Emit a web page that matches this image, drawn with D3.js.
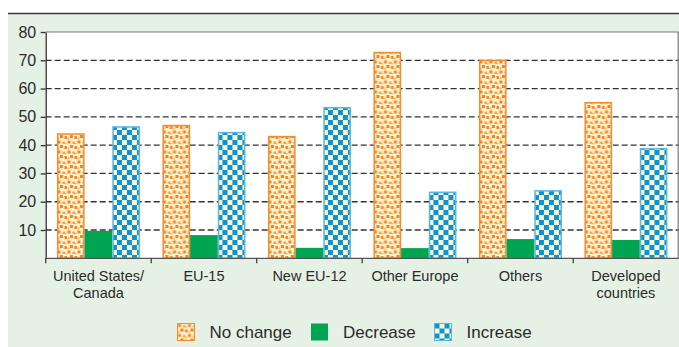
<!DOCTYPE html>
<html>
<head>
<meta charset="utf-8">
<script src="https://cdn.jsdelivr.net/npm/d3@7"></script>
<style>
  html, body { margin: 0; padding: 0; background: #ffffff; }
  svg { display: block; font-family: "Liberation Sans", Arial, Helvetica, sans-serif; }
</style>
</head>
<body>
<svg id="chart" width="679" height="347"></svg>
<script>
// Regions on the x axis (multi-line labels split on "\n")
const categories = [
  "United States/\nCanada",
  "EU-15",
  "New EU-12",
  "Other Europe",
  "Others",
  "Developed\ncountries"
];
// Share of respondents (%) per answer
const noChange = [44.2, 47.2, 43.3, 73.0, 70.2, 55.3];
const decrease = [9.7, 8.2, 3.7, 3.6, 6.8, 6.5];
const increase = [46.7, 44.7, 53.5, 23.6, 24.1, 39.0];
const seriesNames = ["No change", "Decrease", "Increase"];
const yTicks = [10, 20, 30, 40, 50, 60, 70, 80];

const W = 679, H = 347;
const plot = { left: 45.7, right: 678.7, top: 32, bottom: 258.3 };
const textColor = "#2b2b2b";

const svg = d3.select("#chart");
const defs = svg.append("defs");

// Speckled orange fill
const pNo = defs.append("pattern").attr("id", "pat-nochange")
  .attr("patternUnits", "userSpaceOnUse").attr("width", 10).attr("height", 10);
pNo.append("rect").attr("width", 10).attr("height", 10).attr("fill", "#fff4cf");
[[0.5,0.5,3,3,"#f58220"],[5.5,1.5,2.5,2.5,"#f7a04a"],[3,5,3,3,"#f58220"],
 [7.5,6,2.5,3,"#f58220"],[0.5,7.5,2,2,"#f9b36a"],[8,3,1.5,1.5,"#f9b36a"]]
  .forEach(([x, y, w, h, c]) => pNo.append("rect").attr("x", x).attr("y", y)
    .attr("width", w).attr("height", h).attr("fill", c));

// Blue checkerboard fill
const cell = 5;
const pInc = defs.append("pattern").attr("id", "pat-increase")
  .attr("patternUnits", "userSpaceOnUse").attr("width", cell * 2).attr("height", cell * 2);
pInc.append("rect").attr("width", cell * 2).attr("height", cell * 2).attr("fill", "#fdf5cc");
pInc.append("rect").attr("x", 0).attr("y", 0).attr("width", cell).attr("height", cell).attr("fill", "#0a93da");
pInc.append("rect").attr("x", cell).attr("y", cell).attr("width", cell).attr("height", cell).attr("fill", "#0a93da");

const styles = [
  { fill: "url(#pat-nochange)", stroke: "#f68b2c", sw: 1.5 },
  { fill: "#00a551", stroke: "none", sw: 0 },
  { fill: "url(#pat-increase)", stroke: "#56b8e6", sw: 1.5 }
];

// Panel background and top rule
svg.append("rect").attr("x", 8).attr("y", 13).attr("width", W - 8).attr("height", H - 13)
  .attr("fill", "#e6f1e5");
svg.append("line").attr("x1", 8).attr("x2", W).attr("y1", 13.5).attr("y2", 13.5)
  .attr("stroke", "#3a3a3a").attr("stroke-width", 1.6);

// Plot area
svg.append("rect").attr("x", plot.left).attr("y", plot.top)
  .attr("width", plot.right - plot.left).attr("height", plot.bottom - plot.top)
  .attr("fill", "#ffffff");

const y = d3.scaleLinear().domain([0, 80]).range([plot.bottom, plot.top]);
const x0 = d3.scaleBand().domain(categories).range([plot.left, plot.right])
  .paddingInner(0.213).paddingOuter(0.1065);
const x1 = d3.scaleBand().domain(seriesNames).range([0, x0.bandwidth()]).padding(0);

// Dashed grid
svg.append("g").selectAll("line").data(yTicks.filter(t => t < 80)).join("line")
  .attr("x1", plot.left).attr("x2", plot.right)
  .attr("y1", d => y(d)).attr("y2", d => y(d))
  .attr("stroke", "#333").attr("stroke-width", 1.3).attr("stroke-dasharray", "6,3");

// Plot frame (top and right)
svg.append("path")
  .attr("d", `M${plot.left},${y(80)}H${plot.right - 0.5}V${plot.bottom}`)
  .attr("fill", "none").attr("stroke", "#7a7a7a").attr("stroke-width", 1.2);

// Bars
const rows = categories.map((c, i) => ({ cat: c, vals: [noChange[i], decrease[i], increase[i]] }));
const groups = svg.append("g").selectAll("g").data(rows).join("g")
  .attr("transform", d => `translate(${x0(d.cat)},0)`);
groups.selectAll("rect").data(d => d.vals.map((v, k) => ({ v, k }))).join("rect")
  .attr("x", d => x1(seriesNames[d.k]) + styles[d.k].sw / 2)
  .attr("width", d => x1.bandwidth() - styles[d.k].sw)
  .attr("y", d => y(d.v) + styles[d.k].sw / 2)
  .attr("height", d => y(0) - y(d.v) - styles[d.k].sw / 2)
  .attr("fill", d => styles[d.k].fill)
  .attr("stroke", d => styles[d.k].stroke)
  .attr("stroke-width", d => styles[d.k].sw);

// Y axis
const yAxis = svg.append("g").attr("transform", `translate(${plot.left},0)`)
  .call(d3.axisLeft(y).tickValues(yTicks).tickSize(5).tickSizeOuter(0).tickPadding(4.5));
yAxis.select(".domain").attr("stroke", "#333").attr("stroke-width", 1.3);
yAxis.selectAll(".tick line").attr("stroke", "#333").attr("stroke-width", 1.3);
yAxis.selectAll(".tick text").attr("font-size", 16).attr("fill", textColor)
  .attr("font-family", "Liberation Sans, Arial, sans-serif");

// X axis with ticks at group boundaries
svg.append("line").attr("x1", plot.left).attr("x2", plot.right)
  .attr("y1", plot.bottom).attr("y2", plot.bottom)
  .attr("stroke", "#555").attr("stroke-width", 1.3);
const step = x0.step();
const bounds = d3.range(categories.length).map(i => plot.left + i * step);
svg.append("g").selectAll("line").data(bounds).join("line")
  .attr("x1", d => d).attr("x2", d => d)
  .attr("y1", plot.bottom).attr("y2", plot.bottom + 5)
  .attr("stroke", "#333").attr("stroke-width", 1.2);

const xl = svg.append("g").selectAll("text").data(categories).join("text")
  .attr("x", d => x0(d) + x0.bandwidth() / 2)
  .attr("y", 280.5)
  .attr("text-anchor", "middle").attr("font-size", 14.5).attr("fill", textColor);
xl.selectAll("tspan").data(d => d.split("\n")).join("tspan")
  .attr("x", function () { return d3.select(this.parentNode).attr("x"); })
  .attr("dy", (d, i) => i === 0 ? 0 : 17.5)
  .text(d => d);

// Legend
const legendX = [177.5, 311, 434.5];
const leg = svg.append("g").selectAll("g").data(seriesNames).join("g")
  .attr("transform", (d, i) => `translate(${legendX[i]},323.5)`);
leg.append("rect").attr("width", 17).attr("height", 17)
  .attr("fill", (d, i) => styles[i].fill)
  .attr("stroke", (d, i) => i === 1 ? "none" : styles[i].stroke)
  .attr("stroke-width", 1);
leg.append("text").attr("x", 32).attr("y", 14.5).attr("font-size", 17)
  .attr("fill", textColor).text(d => d);
</script>
</body>
</html>
